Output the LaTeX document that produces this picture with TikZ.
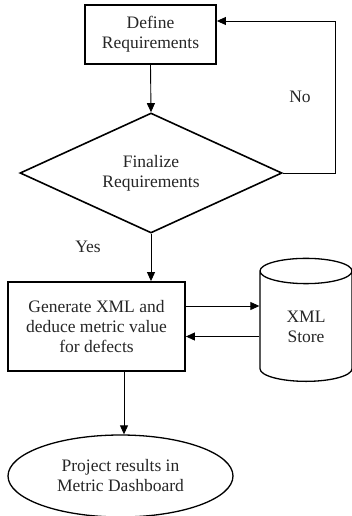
\documentclass[tikz,border=0pt]{standalone}
\usepackage{fontspec}
\setmainfont{Liberation Serif}
\usetikzlibrary{shapes.geometric,arrows.meta}
\begin{document}
\begin{tikzpicture}[x=1pt,y=1pt,
  every node/.style={font=\fontsize{17.5}{20}\selectfont, text=black!85, align=center},
  box/.style={draw, line width=1.8pt, inner sep=0pt},
  dec/.style={draw, diamond, line width=1.6pt, inner sep=0pt, aspect=2.18, minimum width=262pt, minimum height=120pt},
  store/.style={draw, cylinder, shape border rotate=90, line width=1.3pt, aspect=0.65, minimum width=92pt, minimum height=123pt, inner sep=0pt},
  term/.style={draw, ellipse, line width=1.3pt, minimum width=225pt, minimum height=82pt, inner sep=0pt},
  arr/.style={line width=0.9pt, -{Triangle[length=9pt,width=8pt]}}]
\useasboundingbox (0,0) rectangle (352,-516);
\node[box, minimum width=131pt, minimum height=59pt] (def) at (150.5,-34.5) {Define\\Requirements};
\node[dec] (dia) at (151,-173) {Finalize\\Requirements};
\node[box, minimum width=177pt, minimum height=89pt] (gen) at (96.5,-326.5) {Generate XML and\\deduce metric value\\for defects};
\node[store] (st) at (306,-326.5) {XML\\Store};
\node[term] (dash) at (120.5,-476) {Project results in\\Metric Dashboard};
\coordinate (loopx) at (335,0);
\node (no) at (300,-97) {No};
\node (yes) at (88,-247) {Yes};
\draw[arr] (def.south) -- (dia.north);
\draw[arr] (dia.east) -- (dia.east -| loopx) |- ([yshift=13.5pt]def.east);
\draw[arr] (dia.south) -- (dia.south |- gen.north);
\draw[arr] ([yshift=20.5pt]gen.east) -- ([yshift=20.5pt]gen.east -| st.west);
\draw[arr] ([yshift=-10pt]gen.east -| st.west) -- ([yshift=-10pt]gen.east);
\draw[arr] ([xshift=27.5pt]gen.south) -- ([xshift=27.5pt]gen.south |- dash.north);
\end{tikzpicture}
\end{document}
